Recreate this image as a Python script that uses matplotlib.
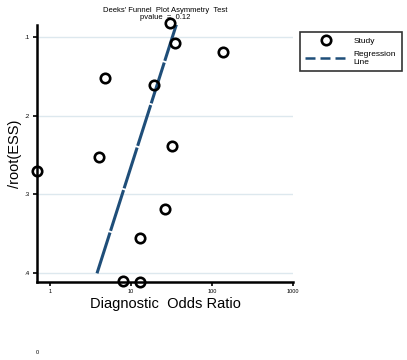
import matplotlib
matplotlib.use("Agg")
import matplotlib.pyplot as plt
from matplotlib.lines import Line2D

plt.rcParams["font.family"] = ["Liberation Sans", "DejaVu Sans"]

# study points: diagnostic odds ratio vs 1/root(ESS)
dor = [30.3, 34.9, 137, 4.8, 19.2, 32.1, 4.0, 0.69, 26.3, 12.9, 8.0, 12.9]
inv_root_ess = [0.083, 0.108, 0.119, 0.152, 0.161, 0.239, 0.252, 0.270, 0.319, 0.355, 0.410, 0.411]

# fitted regression line (end points)
reg_dor = [3.8, 38]
reg_y = [0.400, 0.078]

xticks = [1, 10, 100, 1000]
xticklabels = ["1", "10", "100", "1000"]
yticks = [0.1, 0.2, 0.3, 0.4]
yticklabels = [".1", ".2", ".3", ".4"]

fig = plt.figure(figsize=(4.07, 3.60), dpi=100)
ax = fig.add_axes([37/407, 1 - 282/360, 256/407, 257/360])

for yt in yticks:
    ax.axhline(yt, color="#dde8ee", lw=1.0, zorder=0)

line_color = "#1f4e79"
ax.plot(reg_dor, reg_y, color=line_color, lw=2.2, dashes=(14, 0.6), zorder=2)
ax.plot(dor, inv_root_ess, "o", mfc="none", mec="black", ms=6.8, mew=1.9,
        clip_on=False, zorder=3)

ax.set_xscale("log")
ax.set_xlim(0.69, 1000)
ax.set_ylim(0.411, 0.085)
ax.set_xticks(xticks)
ax.set_xticklabels(xticklabels, fontsize=4)
ax.minorticks_off()
ax.set_yticks(yticks)
ax.set_yticklabels(yticklabels, fontsize=4.5)
ax.tick_params(axis="both", length=3, width=1.2, pad=2)

for s in ["top", "right"]:
    ax.spines[s].set_visible(False)
for s in ["left", "bottom"]:
    ax.spines[s].set_linewidth(1.8)

ax.set_xlabel("Diagnostic  Odds Ratio", fontsize=10.5, labelpad=2)
ax.set_ylabel("/root(ESS)", fontsize=10.5)
ax.yaxis.set_label_coords(-0.058, 0.5)
ax.set_title("Deeks' Funnel  Plot Asymmetry  Test\npvalue  =  0.12", fontsize=5.5,
             linespacing=1.05, pad=4)

handles = [
    Line2D([], [], marker="o", ls="none", mfc="none", mec="black", ms=6.8, mew=1.9),
    Line2D([], [], color=line_color, lw=1.8, ls=(0, (4, 2))),
]
leg = fig.legend(handles, ["Study", "Regression\nLine"], loc="upper left",
                 bbox_to_anchor=(296/407, 1 - 72/360, 110/407, 44/360),
                 mode="expand", fontsize=6,
                 frameon=True, fancybox=False, edgecolor="black",
                 handlelength=5, borderpad=0.6, labelspacing=0.7)
leg.get_frame().set_linewidth(1.2)

fig.text(37/407, 1 - 352/360, "0", fontsize=4, ha="center", va="center")

fig.savefig("out.png", dpi=100)
